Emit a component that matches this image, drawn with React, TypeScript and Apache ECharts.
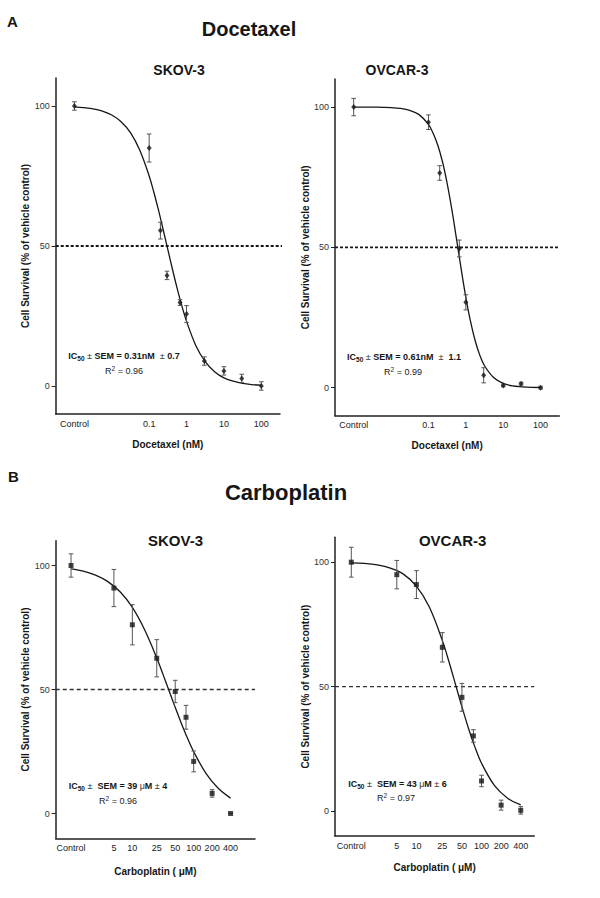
import { useEffect, useRef } from "react";
import * as echarts from "echarts";

const FONT = "'Liberation Sans', Arial, Helvetica, sans-serif";
const INK = "#161616";

// ---------- axes ----------
const yTicks = [0, 50, 100];
const HALF_SURVIVAL = 50;
const yName = "Cell Survival (% of vehicle control)";
const docTickLabels = ["Control", "0.1", "1", "10", "100"];
const docTickDoses = [0.001, 0.1, 1, 10, 100]; // Control plotted at 0.001 nM
const carboTickLabels = ["Control", "5", "10", "25", "50", "100", "200", "400"];
const carboTickDoses = [1, 5, 10, 25, 50, 100, 200, 400]; // Control plotted at 1 µM

// ---------- Docetaxel SKOV-3 ----------
const docSkovDoses = [0.001, 0.1, 0.2, 0.3, 0.67, 1, 3, 10, 30, 100];
const docSkovMean = [100, 85, 55.5, 39.5, 29.8, 25.7, 8.9, 5.4, 2.7, 0];
const docSkovSem = [1.5, 5, 3, 1.5, 1, 3, 1.5, 1.5, 1.5, 1.5];
const docSkovCurveLogDose = [-3, -2.75, -2.5, -2.25, -2, -1.75, -1.5, -1.25, -1, -0.875, -0.75, -0.625, -0.5, -0.375, -0.25, -0.125, 0, 0.25, 0.5, 0.75, 1, 1.25, 1.5, 1.75, 2];
const docSkovCurveFit = [99.7, 99.4, 99.0, 98.2, 96.8, 94.4, 90.5, 84.2, 75.0, 69.2, 62.8, 55.8, 48.7, 41.6, 34.8, 28.6, 23.1, 14.4, 8.7, 5.1, 2.9, 1.7, 0.9, 0.5, 0.3];

// ---------- Docetaxel OVCAR-3 ----------
const docOvcarDoses = [0.001, 0.1, 0.2, 0.67, 1, 3, 10, 30, 100];
const docOvcarMean = [100, 94.6, 76.5, 49.6, 30.4, 4.4, 0.8, 1.4, 0];
const docOvcarSem = [3.1, 2.6, 2.6, 3, 2.7, 2.7, 0.5, 0.5, 0.5];
const docOvcarCurveLogDose = [-3, -2.75, -2.5, -2.25, -2, -1.75, -1.5, -1.25, -1, -0.875, -0.75, -0.625, -0.5, -0.375, -0.25, -0.125, 0, 0.125, 0.25, 0.375, 0.5, 0.75, 1, 1.25, 1.5, 1.75, 2];
const docOvcarCurveFit = [100, 100, 100, 99.9, 99.8, 99.5, 98.8, 97.3, 93.8, 90.7, 86.4, 80.5, 72.8, 63.5, 53.0, 42.3, 32.2, 23.6, 16.7, 11.5, 7.8, 3.5, 1.5, 0.6, 0.3, 0.1, 0.05];

// ---------- Carboplatin SKOV-3 ----------
const carboSkovDoses = [1, 5, 10, 25, 50, 75, 100, 200, 400];
const carboSkovMean = [100, 90.9, 76.1, 62.6, 49.2, 38.8, 21.0, 8.1, 0];
const carboSkovSem = [4.7, 7.5, 8.1, 7.5, 4.5, 4.8, 4.2, 1.5, 0];
const carboSkovCurveLogDose = [0, 0.2, 0.4, 0.6, 0.8, 1.0, 1.2, 1.4, 1.5, 1.6, 1.7, 1.8, 1.9, 2.0, 2.2, 2.4, 2.602];
const carboSkovCurveFit = [98.6, 97.7, 96.1, 93.5, 89.4, 83.1, 74.1, 62.6, 56.1, 49.4, 42.7, 36.3, 30.3, 24.9, 16.2, 10.2, 6.2];

// ---------- Carboplatin OVCAR-3 ----------
const carboOvcarDoses = [1, 5, 10, 25, 50, 75, 100, 200, 400];
const carboOvcarMean = [100, 95.0, 91.0, 65.8, 45.7, 30.2, 12.1, 2.4, 0.3];
const carboOvcarSem = [6.0, 5.7, 5.6, 5.9, 5.6, 2.5, 2.3, 2.0, 1.5];
const carboOvcarCurveLogDose = [0, 0.2, 0.4, 0.6, 0.8, 1.0, 1.2, 1.4, 1.5, 1.6, 1.7, 1.8, 1.9, 2.0, 2.2, 2.4, 2.602];
const carboOvcarCurveFit = [99.7, 99.5, 98.9, 97.6, 95.2, 90.4, 81.9, 68.4, 60.0, 50.9, 41.8, 33.2, 25.6, 19.2, 10.2, 5.2, 2.5];

// ---------- annotations ----------
const icTexts = [
  "{b|IC}{sub|50}{n| ± }{b|SEM = 0.31nM}{n|  ± }{b|0.7}",
  "{b|IC}{sub|50}{n| ± }{b|SEM = 0.61nM}{n|  ±  }{b|1.1}",
  "{b|IC}{sub|50}{n| ±  }{b|SEM = 39}{n| μ}{b|M}{n| ± }{b|4}",
  "{b|IC}{sub|50}{n| ±  }{b|SEM = 43}{n| μ}{b|M}{n| ± }{b|6}",
];
const r2Texts = ["{n|R}{sup|2}{n| = 0.96}", "{n|R}{sup|2}{n| = 0.99}", "{n|R}{sup|2}{n| = 0.96}", "{n|R}{sup|2}{n| = 0.97}"];
const cellLines = ["SKOV-3", "OVCAR-3", "SKOV-3", "OVCAR-3"];

const panels = [
  {
    grid: { left: 55.7, top: 78, width: 224.3, height: 336 },
    xMin: -3.5, xMax: 2.5, dashEnd: 2.77, tickDoses: docTickDoses, tickLabels: docTickLabels,
    xName: "Docetaxel (nM)", nameGap: 25,
    doses: docSkovDoses, mean: docSkovMean, sem: docSkovSem,
    curveX: docSkovCurveLogDose, curveY: docSkovCurveFit,
    symbol: "diamond", symbolSize: [5, 6],
    dash: { type: [3, 2], width: 1.8, color: INK },
    title: { x: 179, y: 70, size: 14 },
    ic: { x: 124, y: 356 }, r2: { x: 124, y: 371 },
  },
  {
    grid: { left: 335, top: 79, width: 224.3, height: 336.7 },
    xMin: -3.5, xMax: 2.5, dashEnd: 2.5, tickDoses: docTickDoses, tickLabels: docTickLabels,
    xName: "Docetaxel (nM)", nameGap: 25,
    doses: docOvcarDoses, mean: docOvcarMean, sem: docOvcarSem,
    curveX: docOvcarCurveLogDose, curveY: docOvcarCurveFit,
    symbol: "diamond", symbolSize: [5, 6],
    dash: { type: [3, 2], width: 1.8, color: INK },
    title: { x: 397, y: 70, size: 14 },
    ic: { x: 404, y: 356.7 }, r2: { x: 403, y: 371.7 },
  },
  {
    grid: { left: 55.7, top: 540.7, width: 199.3, height: 297.6 },
    xMin: -0.25, xMax: 3.0, dashEnd: 3.0, tickDoses: carboTickDoses, tickLabels: carboTickLabels,
    xName: "Carboplatin ( μM)", nameGap: 28,
    doses: carboSkovDoses, mean: carboSkovMean, sem: carboSkovSem,
    curveX: carboSkovCurveLogDose, curveY: carboSkovCurveFit,
    symbol: "rect", symbolSize: 5,
    dash: { type: [4, 3], width: 1.3, color: "#333" },
    title: { x: 175.5, y: 540, size: 15 },
    ic: { x: 118, y: 785.7 }, r2: { x: 118, y: 801 },
  },
  {
    grid: { left: 335, top: 537.3, width: 199.3, height: 298.7 },
    xMin: -0.25, xMax: 2.81, dashEnd: 2.81, tickDoses: carboTickDoses, tickLabels: carboTickLabels,
    xName: "Carboplatin ( μM)", nameGap: 26,
    doses: carboOvcarDoses, mean: carboOvcarMean, sem: carboOvcarSem,
    curveX: carboOvcarCurveLogDose, curveY: carboOvcarCurveFit,
    symbol: "rect", symbolSize: 5,
    dash: { type: [4, 3], width: 1.3, color: "#333" },
    title: { x: 452.7, y: 540, size: 15 },
    ic: { x: 397.5, y: 784 }, r2: { x: 396, y: 797.7 },
  },
];

function buildOption() {
  const grid: any[] = [];
  const xAxis: any[] = [];
  const yAxis: any[] = [];
  const series: any[] = [];
  const graphic: any[] = [];

  panels.forEach((p, i) => {
    grid.push({ ...p.grid, containLabel: false });
    const tickLogs = p.tickDoses.map((d) => Math.log10(d));
    xAxis.push({
      gridIndex: i,
      type: "value",
      min: p.xMin,
      max: p.xMax,
      axisLine: { show: true, onZero: false, lineStyle: { color: "#222", width: 1.5 } },
      axisTick: { show: false },
      splitLine: { show: false },
      axisLabel: {
        customValues: tickLogs,
        formatter: (v: number) => {
          const k = tickLogs.findIndex((t) => Math.abs(t - v) < 1e-6);
          return k >= 0 ? p.tickLabels[k] : "";
        },
        fontFamily: FONT,
        fontSize: 9,
        color: "#222",
        margin: 5,
        hideOverlap: false,
        showMinLabel: true,
        showMaxLabel: true,
      },
      name: p.xName,
      nameLocation: "middle",
      nameGap: p.nameGap,
      nameTextStyle: { fontFamily: FONT, fontSize: 10, fontWeight: "bold", color: INK },
    });
    yAxis.push({
      gridIndex: i,
      type: "value",
      min: -10,
      max: 110,
      axisLine: { show: true, onZero: false, lineStyle: { color: "#222", width: 1.5 } },
      axisTick: { show: true, customValues: yTicks, length: 4, lineStyle: { color: "#222", width: 1 } },
      axisLabel: { customValues: yTicks, fontFamily: FONT, fontSize: 9, color: "#333", margin: 6 },
      splitLine: { show: false },
      name: yName,
      nameLocation: "middle",
      nameGap: 22,
      nameTextStyle: { fontFamily: FONT, fontSize: 10, fontWeight: "bold", color: INK },
    });

    // 50 % dashed reference
    series.push({
      type: "line",
      xAxisIndex: i,
      yAxisIndex: i,
      data: [[p.xMin, HALF_SURVIVAL], [p.dashEnd, HALF_SURVIVAL]],
      clip: false,
      showSymbol: false,
      symbol: "none",
      lineStyle: { color: p.dash.color, width: p.dash.width, type: p.dash.type },
      z: 1,
      silent: true,
    });

    // fitted curve
    series.push({
      type: "line",
      xAxisIndex: i,
      yAxisIndex: i,
      data: p.curveX.map((x, k) => [x, p.curveY[k]]),
      smooth: 0.35,
      showSymbol: false,
      symbol: "none",
      lineStyle: { color: INK, width: 1.3 },
      z: 2,
      silent: true,
    });

    // error bars (SEM)
    series.push({
      type: "custom",
      xAxisIndex: i,
      yAxisIndex: i,
      data: p.doses.map((d, k) => [Math.log10(d), p.mean[k] - p.sem[k], p.mean[k] + p.sem[k]]),
      encode: { x: 0, y: [1, 2] },
      z: 3,
      silent: true,
      renderItem: (_params: any, api: any) => {
        const x = api.value(0);
        const hi = api.coord([x, api.value(2)]);
        const lo = api.coord([x, api.value(1)]);
        const cap = 2.3;
        const style = { stroke: "#555", lineWidth: 1 };
        return {
          type: "group",
          children: [
            { type: "line", shape: { x1: hi[0], y1: hi[1], x2: lo[0], y2: lo[1] }, style },
            { type: "line", shape: { x1: hi[0] - cap, y1: hi[1], x2: hi[0] + cap, y2: hi[1] }, style },
            { type: "line", shape: { x1: lo[0] - cap, y1: lo[1], x2: lo[0] + cap, y2: lo[1] }, style },
          ],
        };
      },
    });

    // mean points
    series.push({
      type: "scatter",
      xAxisIndex: i,
      yAxisIndex: i,
      data: p.doses.map((d, k) => [Math.log10(d), p.mean[k]]),
      symbol: p.symbol,
      symbolSize: p.symbolSize,
      itemStyle: { color: INK },
      z: 4,
      silent: true,
    });

    graphic.push({
      type: "text",
      x: p.title.x,
      y: p.title.y,
      style: {
        text: cellLines[i],
        font: `bold ${p.title.size}px ${FONT}`,
        fill: INK,
        textAlign: "center",
        textVerticalAlign: "middle",
      },
    });
    graphic.push({
      type: "text",
      x: p.ic.x,
      y: p.ic.y,
      style: {
        text: icTexts[i],
        textAlign: "center",
        textVerticalAlign: "middle",
        rich: {
          b: { fontFamily: FONT, fontSize: 9, fontWeight: "bold", fill: INK, lineHeight: 12 },
          n: { fontFamily: FONT, fontSize: 9, fontWeight: "normal", fill: "#333", lineHeight: 12 },
          sub: { fontFamily: FONT, fontSize: 6.5, fontWeight: "bold", fill: INK, lineHeight: 7, verticalAlign: "bottom" },
        },
      },
    });
    graphic.push({
      type: "text",
      x: p.r2.x,
      y: p.r2.y,
      style: {
        text: r2Texts[i],
        textAlign: "center",
        textVerticalAlign: "middle",
        rich: {
          n: { fontFamily: FONT, fontSize: 9, fill: "#222", lineHeight: 12 },
          sup: { fontFamily: FONT, fontSize: 6.5, fill: "#222", lineHeight: 7, verticalAlign: "top" },
        },
      },
    });
  });

  // figure headings
  graphic.push(
    { type: "text", x: 7, y: 21, style: { text: "A", font: `bold 15px ${FONT}`, fill: INK, textVerticalAlign: "middle" } },
    { type: "text", x: 249, y: 29, style: { text: "Docetaxel", font: `bold 20px ${FONT}`, fill: INK, textAlign: "center", textVerticalAlign: "middle" } },
    { type: "text", x: 8, y: 476, style: { text: "B", font: `bold 15px ${FONT}`, fill: INK, textVerticalAlign: "middle" } },
    { type: "text", x: 286, y: 492, style: { text: "Carboplatin", font: `bold 22px ${FONT}`, fill: INK, textAlign: "center", textVerticalAlign: "middle" } }
  );

  return {
    animation: false,
    backgroundColor: "#ffffff",
    grid,
    xAxis,
    yAxis,
    series,
    graphic,
  };
}

export default function App() {
  const ref = useRef<HTMLDivElement>(null);
  useEffect(() => {
    if (!ref.current) return;
    const chart = echarts.init(ref.current, null, { renderer: "svg" });
    chart.setOption(buildOption() as any);
    return () => chart.dispose();
  }, []);
  return (
    <div
      ref={ref}
      style={{ position: "absolute", left: 0, top: 0, width: 600, height: 898, background: "#fff" }}
    />
  );
}
